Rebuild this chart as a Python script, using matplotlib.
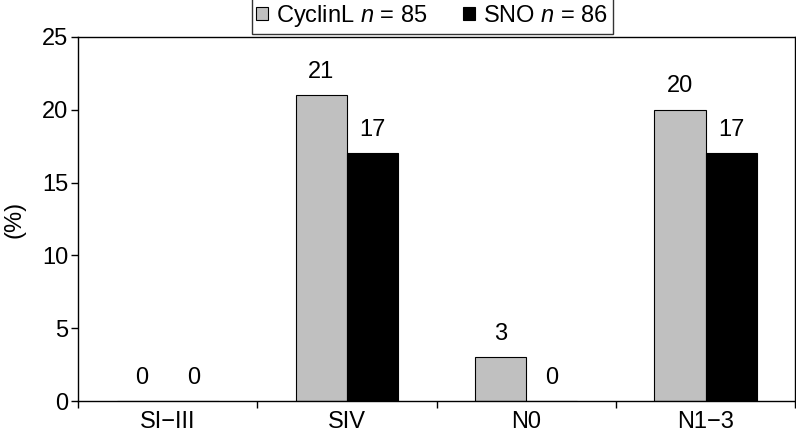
import numpy as np
import matplotlib.pyplot as plt

plt.rcParams['font.family'] = ['Liberation Sans', 'DejaVu Sans']
plt.rcParams['mathtext.fontset'] = 'custom'
plt.rcParams['mathtext.it'] = 'Liberation Sans:italic'
plt.rcParams['mathtext.rm'] = 'Liberation Sans'

# data
categories = ["SI\u2212III", "SIV", "N0", "N1\u22123"]
cyclinl = [0, 21, 3, 20]
sno = [0, 17, 0, 17]
series_names = [r"CyclinL $n$ = 85", r"SNO $n$ = 86"]

fs = 17
fig = plt.figure(figsize=(7.96, 4.4), dpi=100)
ax = fig.add_axes([0.098, 0.0886, 0.901, 0.8275])

x = np.arange(len(categories))
w = 0.285
b1 = ax.bar(x - w / 2, cyclinl, w, color="#c0c0c0", edgecolor="black", linewidth=0.8, label=series_names[0])
b2 = ax.bar(x + w / 2, sno, w, color="black", edgecolor="black", linewidth=0.8, label=series_names[1])

for bars in (b1, b2):
    for r in bars:
        h = r.get_height()
        ax.annotate(str(int(h)), (r.get_x() + r.get_width() / 2, h), xytext=(0, 9),
                    textcoords="offset points", ha="center", va="bottom", fontsize=fs)

ax.set_xlim(-0.5, 3.5)
ax.set_ylim(0, 25)
ax.set_yticks([0, 5, 10, 15, 20, 25])
ax.set_xticks(np.arange(-0.5, 4.0, 1.0))
ax.set_xticklabels([])
ax.set_xticks(x, minor=True)
ax.set_xticklabels(categories, minor=True)
ax.tick_params(axis="x", which="minor", length=0, pad=7, labelsize=fs)
ax.tick_params(axis="x", which="major", length=5, direction="out", width=1)
ax.tick_params(axis="y", length=5, direction="out", width=1, labelsize=fs, pad=2)
ax.set_ylabel("(%)", fontsize=fs, labelpad=12)

for s in ax.spines.values():
    s.set_linewidth(1)

leg = ax.legend(loc="lower center", bbox_to_anchor=(0.494, 1.002), ncol=2, fontsize=fs,
                frameon=True, fancybox=False, edgecolor="black", handlelength=0.5,
                handleheight=0.5, handletextpad=0.35, columnspacing=1.5,
                borderpad=0.2, borderaxespad=0.1)
leg.get_frame().set_linewidth(1)

fig.savefig("out.png", dpi=100)
